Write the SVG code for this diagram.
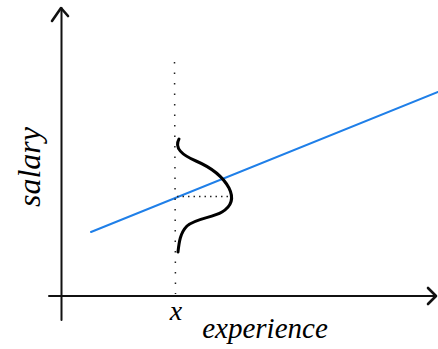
<svg xmlns="http://www.w3.org/2000/svg" width="438" height="349" viewBox="0 0 438 349">
<style>
.axis{stroke:#111;stroke-width:2;fill:none;stroke-linecap:round;stroke-linejoin:round}
.head{stroke:#111;stroke-width:2.6;fill:none;stroke-linecap:round;stroke-linejoin:round}
.reg{stroke:#1f7fe8;stroke-width:2;fill:none;stroke-linecap:round}
.bell{stroke:#000;stroke-width:3;fill:none;stroke-linecap:round}
.dots{stroke:#222;stroke-width:1.5;fill:none;stroke-dasharray:1.5 9}
.hdots{stroke:#222;stroke-width:1.3;fill:none;stroke-dasharray:1.5 4}
.lbl{font-family:"Liberation Serif",serif;font-style:italic;fill:#000}
</style>
<rect width="438" height="349" fill="#fff"/>
<g id="axes">
<line class="axis" x1="61.5" y1="8" x2="61.5" y2="320"/>
<polyline class="head" points="52,21 61,8 68,16"/>
<line class="axis" x1="49" y1="296" x2="436" y2="296"/>
<polyline class="head" points="428,288 436,296 428,304"/>
</g>
<g id="connectors">
<line class="reg" x1="91" y1="232" x2="438" y2="92"/>
<line class="dots" x1="174.5" y1="62" x2="175.5" y2="294"/>
<line class="hdots" x1="177" y1="196.5" x2="229" y2="196.5"/>
<path class="bell" d="M179,139 C174,148 182,155 196,161 C210,167 222,175 229,188 C234,198 232,206 222,212 C212,218 196,218 187,226 C180,233 179,243 178,252"/>
</g>
<g id="labels">
<text class="lbl" x="0" y="0" font-size="32" text-anchor="middle" transform="translate(40,167) rotate(-90)">salary</text>
<text class="lbl" x="176" y="320" font-size="28" text-anchor="middle">x</text>
<text class="lbl" x="265" y="338" font-size="29" text-anchor="middle">experience</text>
</g>
</svg>
